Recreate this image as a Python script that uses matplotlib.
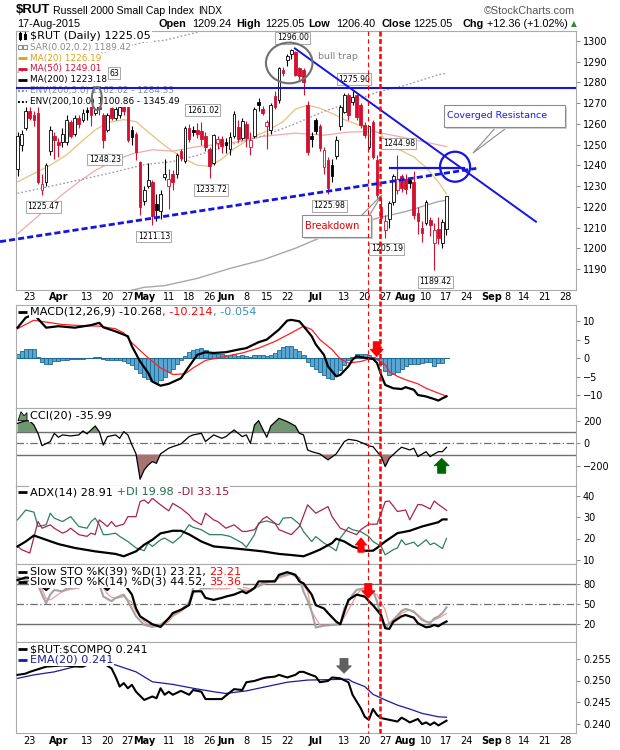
import numpy as np
import pandas as pd
import matplotlib
matplotlib.use("Agg")
import matplotlib.pyplot as plt
from matplotlib.patches import Ellipse, Rectangle, Polygon
from matplotlib.lines import Line2D
from matplotlib.transforms import Affine2D, blended_transform_factory

plt.rcParams["font.family"] = ["DejaVu Sans"]

W, H = 620, 750
RED = "#D3102F"

# trading calendar, 23-Mar-2015 is day 0
holidays = pd.to_datetime(["2015-04-03", "2015-05-25", "2015-07-03", "2015-09-07"])
cal = pd.bdate_range("2015-03-18", "2015-09-30")
cal = cal[~cal.isin(holidays)]
day_no = {d: i - 3 for i, d in enumerate(cal)}

tick_dates = ["2015-03-23", "2015-04-01", "2015-04-13", "2015-04-20", "2015-04-27",
              "2015-05-01", "2015-05-11", "2015-05-18", "2015-05-26", "2015-06-01",
              "2015-06-08", "2015-06-15", "2015-06-22", "2015-07-01", "2015-07-13",
              "2015-07-20", "2015-07-27", "2015-08-03", "2015-08-10", "2015-08-17",
              "2015-08-24", "2015-09-01", "2015-09-08", "2015-09-14", "2015-09-21",
              "2015-09-28"]
tick_text = ["23", "Apr", "13", "20", "27", "May", "11", "18", "26", "Jun", "8", "15",
             "22", "Jul", "13", "20", "27", "Aug", "10", "17", "24", "Sep", "8", "14",
             "21", "28"]

# daily $RUT, 18-Mar .. 17-Aug-2015
opens = [1238, 1250, 1258,
         1266, 1264, 1265, 1228, 1232,
         1247, 1254, 1251, 1251,
         1251, 1261, 1255, 1263, 1262,
         1266.5, 1269, 1265, 1270, 1264,
         1257, 1267.5, 1263, 1264, 1268,
         1268, 1257, 1255, 1241.8, 1223,
         1230, 1232, 1221.5, 1218, 1234.5,
         1230, 1236, 1236, 1247, 1242,
         1258, 1257, 1257, 1256.5, 1254,
         1248, 1241, 1250.5, 1252.5,
         1251, 1248, 1254, 1258.5, 1253,
         1260, 1249, 1254, 1270.5, 1267,
         1259, 1257, 1273.5, 1271.5, 1286,
         1290.8, 1293.5, 1294.4, 1287, 1286,
         1269, 1254, 1262, 1258.7,
         1239.4, 1242.6, 1240.2, 1244.5, 1258.7,
         1265.9, 1273.9, 1270.7, 1273.9, 1269.1,
         1259.5, 1249, 1261, 1242.6, 1220,
         1209, 1214, 1222.5, 1228, 1234.6,
         1233.5, 1233, 1232, 1217, 1209.6,
         1212, 1213.7, 1202.4, 1209.5, 1202.4,
         1209.24]
highs = [1256, 1257, 1268,
         1268, 1266, 1268, 1236, 1241,
         1259, 1256, 1253, 1258,
         1264, 1262, 1264, 1264, 1267,
         1268, 1270, 1271, 1272, 1265,
         1265, 1268, 1268, 1270, 1269,
         1269, 1259, 1256, 1242, 1230,
         1241, 1233, 1226, 1228, 1243,
         1238, 1237.5, 1246, 1248, 1259,
         1260, 1259, 1260.5, 1261.02, 1256,
         1249, 1255, 1254, 1254,
         1253, 1256, 1266, 1262, 1263,
         1261.5, 1256, 1268, 1272.5, 1268.5,
         1262, 1270, 1276, 1287.5, 1287.5,
         1293.5, 1296.00, 1295, 1287.5, 1287,
         1271, 1256, 1263, 1260,
         1249, 1244, 1243, 1254, 1269,
         1275, 1275, 1275.90, 1274.5, 1270,
         1261, 1259, 1262, 1245, 1224,
         1216, 1223, 1236, 1244.98, 1236,
         1236, 1234, 1237, 1220, 1213,
         1223.5, 1215, 1212, 1215, 1214,
         1225.05]
lows = [1235, 1247, 1257,
        1262, 1259, 1231, 1225.47, 1230,
        1245, 1243, 1244, 1249,
        1250, 1253, 1254, 1258, 1261,
        1262, 1258.7, 1264, 1264, 1248.23,
        1256, 1262, 1262, 1263, 1264,
        1251, 1250, 1242.6, 1216, 1221,
        1229, 1211.13, 1213, 1214, 1233,
        1219, 1228, 1234, 1242, 1241,
        1251, 1254, 1253, 1250, 1247,
        1233.72, 1240, 1248, 1246,
        1246, 1245, 1253, 1251, 1252,
        1249, 1245, 1253, 1266, 1264,
        1248, 1255, 1267, 1270, 1283,
        1288, 1291, 1283, 1281, 1274,
        1245, 1249, 1255, 1247,
        1236, 1225.98, 1232, 1243, 1257,
        1265, 1262, 1269, 1262, 1258,
        1253, 1248, 1243, 1224, 1212,
        1205.19, 1210, 1221, 1226, 1227,
        1226, 1229, 1214, 1207, 1203,
        1211, 1206, 1189.42, 1202, 1200,
        1206.40]
closes = [1254, 1255, 1266,
          1263, 1262, 1232, 1231, 1240,
          1257, 1252, 1250, 1255,
          1262, 1254, 1263, 1260, 1265,
          1265.5, 1264, 1270, 1267, 1252,
          1264, 1263, 1267, 1268, 1266,
          1252, 1253.5, 1246.6, 1220, 1228,
          1233, 1215.5, 1218.5, 1226, 1236,
          1233.3, 1232, 1245, 1243.5, 1258,
          1252.5, 1256, 1255, 1252.5, 1249,
          1239.5, 1254.5, 1252.5, 1249.5,
          1249.8, 1253.5, 1264.5, 1252.5, 1261.5,
          1253, 1252, 1267, 1269, 1265,
          1261, 1269, 1268.3, 1286.8, 1284.5,
          1292.8, 1295.5, 1283.6, 1283, 1280,
          1246.6, 1252.5, 1256.3, 1248.2,
          1247.4, 1229, 1234.6, 1252.2, 1268.3,
          1273.9, 1264.3, 1273.1, 1263.5, 1259.5,
          1254.6, 1258.7, 1244.2, 1225.7, 1214.5,
          1213, 1222, 1235, 1233.5, 1229.2,
          1228.5, 1231.5, 1216, 1213, 1207.2,
          1222.5, 1211.2, 1208.8, 1205, 1212.69,
          1225.05]
label_high_days = [42, 64, 79, 90]
label_low_days = [3, 18, 30, 44, 73, 87, 99]

ma20_d = [-3, 1, 5, 9, 13, 16, 19, 23, 26, 29, 33, 37, 41, 44, 47, 50, 54, 58, 62, 65,
          68, 71, 74, 77, 81, 84, 86, 88, 91, 94, 97, 100, 102]
ma20_v = [1232, 1236, 1240, 1245, 1252, 1257, 1260.5, 1262, 1261, 1256, 1249.5, 1244,
          1240, 1239.5, 1243, 1248, 1253, 1256.5, 1261, 1267, 1269, 1267.5, 1265, 1262,
          1259, 1257, 1255, 1249, 1247, 1244, 1239, 1232, 1226.19]
ma50_d = [-3, 0, 4, 8, 12, 16, 20, 25, 30, 35, 41, 49, 57, 65, 72, 78, 84, 90, 96, 102]
ma50_v = [1207, 1212, 1219, 1226, 1232, 1237.5, 1241.5, 1245.5, 1247.5, 1246.8, 1249,
          1250.6, 1253.9, 1255.5, 1254.5, 1256, 1256.3, 1254, 1251.5, 1249.01]
ma200_d = [20, 28, 33, 41, 49, 57, 65, 71, 77, 85, 92, 100, 102]
ma200_v = [1177.5, 1181.2, 1182, 1185.5, 1190.3, 1194.4, 1200, 1205, 1208.8, 1214.5,
           1217.7, 1222.5, 1223.18]
env5_d = [-3, 10, 20, 28, 35, 41, 49, 57, 65, 72, 77, 85, 92, 100, 102]
env5_v = [1226.5, 1232, 1236.4, 1240.3, 1241.8, 1244.8, 1249.8, 1254.1, 1260, 1266,
          1269.2, 1275.2, 1278.6, 1283.6, 1284.33]
env10_d = [-3, 10, 20, 28, 33, 41, 49]
env10_v = [1284.8, 1290.5, 1295.3, 1299.3, 1300.2, 1304.1, 1309.3]

# MACD(12,26,9)
macd_d = [-3, -1, 1, 4, 7, 11, 15, 17, 18, 21, 24, 25, 27, 29, 30, 32, 34, 37, 39, 41,
          43, 45, 48, 51, 53, 56, 58, 61, 63, 64, 66, 67, 69, 70, 72, 73, 75, 76, 78, 79,
          80, 82, 84, 85, 86, 87, 89, 91, 92, 94, 95, 97, 99, 100, 101, 102]
macd_v = [8.2, 10.9, 11.8, 8.2, 8.6, 8.2, 8.9, 9.5, 8.3, 7.2, 5.9, 3.2, -0.9, -4.0,
          -6.3, -7.4, -6.9, -5.4, -2.2, 0.9, 1.6, 1.4, 1.6, 2.3, 2.7, 4.3, 5.0, 7.7,
          10.1, 10.3, 9.9, 8.6, 5.9, 3.7, 0.9, -2.2, -4.9, -4.5, -2.2, -0.4, 0.5, 0.1,
          -0.2, -1.3, -4.5, -7.2, -8.1, -8.3, -7.8, -8.5, -9.9, -10.3, -11.0, -11.4,
          -10.8, -10.268]
sig_d = [-3, -1, 1, 4, 8, 12, 17, 21, 23, 25, 29, 32, 35, 38, 40, 43, 47, 52, 56, 60,
         64, 67, 69, 71, 74, 76, 78, 81, 83, 85, 87, 88, 90, 92, 95, 97, 100, 102]
sig_v = [7.9, 9.1, 10.2, 9.7, 9.05, 8.8, 8.6, 7.9, 6.8, 4.1, 0.05, -2.6, -4.4, -4.2,
         -2.6, -0.6, 0.3, 1.4, 2.7, 4.5, 6.8, 8.6, 7.7, 5.0, 2.3, -0.2, -1.3, -0.9,
         -0.2, -0.4, -1.8, -3.6, -4.9, -5.8, -6.9, -8.1, -9.4, -10.214]
hist = [1.0, 1.8, 2.4,
        2.5, 2.4, 0.2, -1.0, -1.6,
        -1.5, -0.8, -0.8, -0.5,
        -0.4, -0.3, -0.3, -0.1, -0.1,
        0.1, 0.1, 0.3, 0.3, -0.3,
        -0.6, -0.6, -0.6, -0.6, -0.8,
        -1.2, -1.8, -2.8, -4.0, -5.0,
        -5.6, -6.2, -6.6, -6.0, -5.0,
        -3.8, -2.8, -1.6, -0.6, 0.6,
        1.6, 2.2, 2.6, 2.7, 2.2,
        1.2, 1.2, 1.0, 1.0,
        0.8, 0.8, 1.1, 0.6, 0.8,
        0.6, 0.3, 0.8, 0.8, 0.9,
        0.5, 0.8, 1.3, 2.2, 2.9,
        3.3, 3.2, 2.6, 1.9, 0.8,
        -1.0, -2.2, -2.8, -3.8,
        -4.6, -5.4, -5.5, -4.6, -3.2,
        -1.8, -0.6, 0.2, 1.2, 1.2,
        1.1, 0.8, 0.2, -0.2, -1.6,
        -3.5, -4.5, -4.3, -3.6, -2.8,
        -2.2, -1.6, -1.5, -1.6, -1.4,
        -1.1, -1.0, -2.0, -1.4, -1.3,
        -0.054]

# CCI(20)
cci_d = [-3, -1, 0, 1, 2, 3, 5, 6, 7, 8, 10, 12, 13, 14, 16, 17, 18, 19, 21, 22, 23, 24,
         25, 26, 27, 28, 29, 30, 31, 32, 34, 35, 37, 39, 40, 42, 43, 45, 47, 48, 50, 52,
         53, 54, 55, 56, 58, 59, 61, 63, 65, 66, 67, 68, 69, 71, 73, 75, 77, 78, 80, 82,
         83, 84, 86, 87, 88, 90, 91, 93, 94, 95, 97, 98, 100, 101, 102]
cci_v = [176, 200, 198, 162, 88, -21, 15, 88, 53, 74, 65, 74, 109, 83, 153, 103, -15, 59,
         74, 44, 103, 74, -15, -94, -318, -236, -192, -162, -177, -94, -44, -30, -6, 59,
         74, 88, 15, 74, 44, 59, 118, 59, 74, 0, 162, 200, 53, 153, 221, 192, 153, 88,
         74, -59, -74, -94, -147, -94, 15, 35, 24, -6, -24, -30, -118, -206, -133, -65,
         -35, -59, -44, -118, -74, -118, -74, -74, -35.99]

# ADX(14)
adx_d = [-3, -1, 1, 4, 7, 11, 16, 21, 23, 26, 28, 30, 32, 35, 37, 39, 42, 45, 49, 53,
         57, 61, 64, 67, 69, 71, 74, 75, 77, 79, 82, 84, 85, 87, 90, 93, 96, 100, 101, 102]
adx_v = [16.3, 18.6, 21.4, 19.4, 17.4, 15.6, 14.0, 12.8, 11.7, 14.0, 17.1, 19.4, 22.4,
         23.6, 23.6, 21.9, 18.6, 16.3, 15.6, 14.8, 14.0, 12.8, 12.3, 11.7, 13.2, 14.8,
         17.9, 19.9, 18.6, 16.3, 14.3, 14.3, 15.6, 18.6, 22.5, 23.6, 25.6, 27.6, 28.9,
         28.91]
pdi_d = [-3, -1, 1, 2, 4, 5, 6, 8, 10, 12, 14, 15, 16, 17, 18, 19, 21, 22, 24, 26, 28,
         29, 30, 32, 33, 35, 37, 39, 40, 42, 44, 47, 49, 52, 53, 55, 56, 58, 61, 62, 64,
         66, 67, 69, 70, 72, 74, 75, 76, 78, 79, 81, 83, 84, 86, 87, 89, 90, 91, 92, 94,
         95, 97, 98, 99, 101, 102]
pdi_v = [28.7, 33.3, 32.3, 25.6, 26.4, 31.8, 29.5, 27.9, 30.2, 25.6, 24.8, 27.9, 29.5,
         26.4, 21.8, 21.8, 22.5, 21.0, 18.6, 15.6, 14.3, 17.9, 16.3, 19.4, 20.2, 17.9,
         21.0, 26.4, 25.2, 24.1, 21.8, 21.8, 21.0, 17.9, 15.9, 21.8, 27.2, 28.2, 26.4,
         29.5, 29.8, 26.7, 23.2, 18.6, 20.9, 17.9, 15.6, 14.3, 20.2, 25.2, 24.1, 23.2,
         20.9, 18.6, 16.3, 12.4, 14.8, 15.6, 19.4, 17.1, 18.3, 16.3, 19.4, 17.1, 17.9,
         15.3, 19.98]
mdi_d = [-3, -2, 0, 2, 3, 5, 6, 8, 9, 10, 12, 14, 15, 16, 17, 19, 20, 21, 23, 24, 26,
         27, 28, 29, 30, 32, 34, 35, 37, 39, 40, 42, 43, 45, 46, 48, 50, 52, 53, 55, 57,
         58, 60, 61, 64, 66, 68, 70, 73, 74, 76, 78, 80, 81, 83, 85, 86, 87, 88, 90, 92,
         93, 95, 96, 98, 99, 100, 102]
mdi_v = [16.3, 14.8, 13.2, 27.9, 24.8, 26.4, 24.8, 22.5, 23.3, 24.8, 21.8, 21.0, 22.5,
         21.8, 28.7, 25.6, 27.9, 25.6, 26.7, 30.2, 30.2, 37.2, 38.0, 36.4, 38.8, 35.7,
         32.9, 36.4, 34.1, 31.0, 28.7, 26.4, 31.8, 28.7, 27.9, 24.8, 26.4, 23.3, 23.3,
         24.1, 29.1, 30.2, 27.2, 24.1, 21.8, 25.6, 35.7, 31.8, 34.9, 30.2, 24.8, 23.3,
         21.8, 24.1, 26.7, 26.7, 31.8, 37.2, 37.5, 32.6, 33.3, 28.7, 35.9, 35.7, 33.8,
         37.5, 35.9, 33.15]

# Slow STO
k39_d = [-3, -1, 1, 2, 3, 4, 5, 7, 10, 13, 16, 17, 18, 19, 20, 22, 23, 25, 26, 27, 29,
         30, 32, 34, 35, 37, 39, 40, 42, 43, 45, 47, 48, 50, 52, 53, 55, 56, 58, 60, 61,
         63, 65, 66, 67, 69, 70, 72, 73, 75, 76, 77, 78, 80, 82, 83, 84, 86, 87, 88, 89,
         91, 92, 94, 95, 97, 98, 99, 100, 101, 102]
k39_v = [86, 90, 88, 82, 76, 71, 76, 80, 84, 88, 90, 86, 76, 71, 78, 84, 81, 64, 43, 31,
         23, 19, 15, 28, 36, 41, 48, 69, 69, 59, 56, 59, 61, 64, 69, 66, 74, 84, 84, 84,
         94, 98, 94, 84, 81, 64, 48, 43, 36, 23, 19, 38, 56, 64, 61, 54, 48, 33, 13, 12,
         23, 31, 33, 29, 20.5, 14.4, 15.4, 18, 16, 20, 23.21]
k14_d = [-3, -1, 1, 2, 3, 4, 5, 6, 8, 9, 11, 12, 14, 16, 17, 18, 20, 21, 23, 24, 26, 28,
         30, 32, 33, 35, 36, 37, 39, 40, 41, 42, 44, 45, 47, 48, 50, 51, 52, 54, 55, 57,
         58, 60, 61, 63, 64, 66, 67, 68, 69, 70, 72, 74, 76, 77, 79, 80, 82, 84, 85, 86,
         87, 89, 91, 92, 94, 96, 98, 99, 100, 101, 102]
k14_v = [90, 86, 82, 79, 64, 51, 64, 71, 69, 73, 75, 78, 86, 88, 80, 61, 54, 59, 64, 54,
         31, 18, 15, 18, 23, 33, 37, 41, 51, 74, 79, 74, 74, 76, 75, 78, 79, 74, 71, 69,
         74, 81, 84, 84, 91.5, 95, 96.6, 89, 68.7, 55, 38, 14, 16.9, 18, 19, 43.3, 63.6,
         71.2, 73.8, 69.7, 53.5, 28.1, 13.9, 25.6, 39.3, 42.3, 38.3, 25.6, 20.5, 28.1,
         30.7, 36, 44.52]
d3_d = [-3, -1, 1, 3, 4, 5, 6, 8, 10, 12, 14, 17, 19, 20, 21, 23, 25, 26, 28, 29, 31,
        32, 34, 35, 37, 38, 40, 42, 45, 48, 51, 53, 54, 56, 58, 61, 63, 64, 66, 68, 69,
        71, 73, 76, 78, 80, 81, 83, 85, 87, 88, 89, 91, 93, 95, 97, 98, 100, 102]
d3_v = [88, 86, 84, 72, 58, 56, 60, 69, 72, 74, 80, 84, 65, 60, 58, 61, 52, 38, 23, 18,
        15.4, 15.4, 23, 30.7, 38, 43.3, 66, 72.7, 72.7, 72.7, 76.3, 74, 72, 76, 81.4, 89,
        93, 95, 86.5, 68.7, 38.3, 18, 16.9, 19, 40.8, 63.6, 71.2, 69.7, 63.6, 40.8, 18,
        20.5, 35.7, 40.8, 33.2, 23, 23, 28.1, 35.36]

# $RUT:$COMPQ and its EMA(20)
rat_d = [-3, -1, 0, 3, 4, 8, 12, 13, 16, 18, 20, 21, 22, 23, 24, 25, 26, 28, 30, 31, 32,
         33, 34, 35, 37, 39, 40, 42, 43, 45, 47, 48, 50, 52, 53, 55, 57, 58, 60, 61, 63,
         65, 66, 67, 68, 70, 71, 73, 74, 76, 78, 79, 81, 82, 83, 84, 85, 86, 88, 90, 91,
         92, 93, 95, 96, 97, 98, 99, 100, 102]
rat_v = [0.2513, 0.2516, 0.2520, 0.2529, 0.2532, 0.2535, 0.2532, 0.2532, 0.2545, 0.2540,
         0.2528, 0.2509, 0.2486, 0.2494, 0.2482, 0.2490, 0.2474, 0.2455, 0.2463, 0.2459,
         0.2482, 0.2467, 0.2474, 0.2467, 0.2476, 0.2467, 0.2478, 0.2474, 0.2457, 0.2457,
         0.2457, 0.2465, 0.2480, 0.2478, 0.2496, 0.2499, 0.2505, 0.2507, 0.2509, 0.2513,
         0.2507, 0.2513, 0.2520, 0.2520, 0.2516, 0.2509, 0.2496, 0.2499, 0.2507, 0.2505,
         0.2496, 0.2467, 0.2436, 0.2416, 0.2409, 0.2434, 0.2420, 0.2413, 0.2409, 0.2405,
         0.2414, 0.2409, 0.2403, 0.2411, 0.2399, 0.2403, 0.2397, 0.2403, 0.2396, 0.2407]
ema_d = [-3, 1, 6, 11, 16, 21, 26, 30, 35, 40, 45, 48, 53, 58, 63, 68, 78, 79, 82, 84,
         87, 90, 93, 96, 100, 102]
ema_v = [0.2505, 0.2513, 0.2520, 0.2532, 0.2544, 0.2536, 0.2520, 0.2497, 0.2491, 0.2482,
         0.2474, 0.2470, 0.2476, 0.2486, 0.2496, 0.2501, 0.2503, 0.2497, 0.2486, 0.2468,
         0.2455, 0.2443, 0.2434, 0.2424, 0.2416, 0.2415]

# ---------------------------------------------------------------------------
fig = plt.figure(figsize=(W / 100, H / 100), dpi=100)
pix = Affine2D().scale(1 / W, -1 / H).translate(0, 1) + fig.transFigure
rend = fig.canvas.get_renderer()


def rect(top, bot):
    return [16 / W, 1 - bot / H, 560 / W, (bot - top) / H]


XL = (-3.38, 133.7)
ax_p = fig.add_axes(rect(31, 290))
ax_m = fig.add_axes(rect(305, 408))
ax_c = fig.add_axes(rect(408, 486))
ax_a = fig.add_axes(rect(486, 564))
ax_s = fig.add_axes(rect(564, 642))
ax_r = fig.add_axes(rect(642, 733))


def style(ax, ylim, yticks, labels=None):
    ax.set_xlim(*XL)
    ax.set_ylim(*ylim)
    ax.yaxis.tick_right()
    ax.set_yticks(yticks)
    if labels:
        ax.set_yticklabels(labels)
    ax.tick_params(axis="y", labelsize=7, length=3, width=0.7, color="#8A8A8A", pad=2)
    ax.tick_params(axis="x", length=0)
    ax.set_xticks([])
    for s in ax.spines.values():
        s.set_color("#ABABAB")
        s.set_linewidth(0.8)


def dates_axis(ax, pad):
    ax.set_xticks([day_no[pd.Timestamp(d)] for d in tick_dates])
    ax.set_xticklabels(tick_text, fontsize=7)
    for lbl in ax.get_xticklabels():
        if lbl.get_text().isalpha():
            lbl.set_fontweight("bold")
    ax.tick_params(axis="x", length=0, pad=pad)


def chain(target, x, y, parts, size, family="DejaVu Sans", box=False, zorder=6):
    for s, color, weight in parts:
        t = target.text(x, y, s, transform=pix, color=color, fontsize=size,
                        fontweight=weight, family=family, ha="left", va="center",
                        zorder=zorder, clip_on=False)
        if box:
            t.set_bbox(dict(boxstyle="square,pad=0.08", fc="white", ec="none"))
        x += t.get_window_extent(rend).width
    return x


def icon(ax, y, kind, color):
    kw = dict(transform=pix, clip_on=False, zorder=7)
    if kind == "line":
        ax.plot([18, 27], [y, y], color=color, lw=2.0, solid_capstyle="butt", **kw)
    elif kind == "dots":
        ax.plot([18, 27], [y, y], color=color, lw=1.4, ls=(0, (1, 1)), **kw)
    elif kind == "squares":
        ax.plot([20, 25], [y, y], "s", ms=2.4, mfc="none", mec=color, mew=0.8, ls="none", **kw)
    elif kind == "candle":
        ax.plot([20, 20], [y - 4, y + 4], color="black", lw=0.8, **kw)
        ax.plot([20, 20], [y - 2, y + 2], color="black", lw=2.2, **kw)
        ax.plot([25, 25], [y - 4, y + 3], color="black", lw=0.8, **kw)
        ax.plot([25, 25], [y - 1, y + 2], color="black", lw=2.2, **kw)
    elif kind == "hill":
        ax.add_patch(Polygon([(18, y + 5), (21, y - 4), (24, y), (27, y - 3), (27, y + 5)],
                             transform=pix, fc="#6F9671", ec="black", lw=0.6,
                             clip_on=False, zorder=7))


LEG = 8.1      # indicator legends
LEG_SMALL = 6.4  # overlay rows in the price panel

# ---------------- price panel ----------------
style(ax_p, (1179.9, 1304.7), list(range(1190, 1301, 10)))
dates_axis(ax_p, 1.5)

x = np.arange(len(closes)) - 3
o, h, l, c = (np.array(v, dtype=float) for v in (opens, highs, lows, closes))
prev = np.r_[o[0], c[:-1]]
edge = [RED if cc < pp else "black" for cc, pp in zip(c, prev)]
face = ["white" if cc > oo else ee for cc, oo, ee in zip(c, o, edge)]
ax_p.vlines(x, l, h, colors=edge, lw=0.8, zorder=3)
ax_p.bar(x, np.maximum(np.abs(c - o), 0.35), bottom=np.minimum(o, c), width=0.66,
         color=face, edgecolor=edge, linewidth=0.6, zorder=4)

ax_p.plot(ma20_d, ma20_v, color="#E6C27E", lw=0.9, zorder=2)
ax_p.plot(ma50_d, ma50_v, color="#F3A9A9", lw=0.9, zorder=2)
ax_p.plot(ma200_d, ma200_v, color="#A8A8A8", lw=1.0, zorder=2)
ax_p.plot(env5_d, env5_v, color="#9C9CAA", lw=1.0, ls=(0, (1.2, 1.6)), zorder=2)
ax_p.plot(env10_d, env10_v, color="#9C9CAA", lw=1.0, ls=(0, (1.2, 1.6)), zorder=2)

lbl_box = dict(boxstyle="square,pad=0.18", fc="white", ec="#A8A8A8", lw=0.7)
for d in label_high_days:
    ax_p.annotate(f"{h[d + 3]:.2f}", (d, h[d + 3]), xytext=(1, 8.2), textcoords="offset points",
                  ha="center", va="center", fontsize=5.6, bbox=lbl_box, zorder=6)
for d in label_low_days:
    ax_p.annotate(f"{l[d + 3]:.2f}", (d, l[d + 3]), xytext=(1, -8.2), textcoords="offset points",
                  ha="center", va="center", fontsize=5.6, bbox=lbl_box, zorder=6)
ax_p.text(114, 73, "63", transform=pix, ha="center", va="center", fontsize=5.6,
          bbox=lbl_box, zorder=5, clip_on=False)

# legend of the price panel
rows = [("candle", "black", "\\$RUT (Daily) 1225.05", "black", LEG),
        ("squares", "#8C8C8C", "SAR(0.02,0.2) 1189.42", "#8C8C8C", LEG_SMALL),
        ("line", "#D9A21B", "MA(20) 1226.19", "#D9A21B", LEG_SMALL),
        ("line", "#D0103A", "MA(50) 1249.01", "#D0103A", LEG_SMALL),
        ("line", "black", "MA(200) 1223.18", "black", LEG_SMALL),
        ("dots", "#8C8C8C", "ENV(200,5.0) 1162.02 - 1284.33", "#8C8C8C", LEG_SMALL),
        ("dots", "black", "ENV(200,10.0) 1100.86 - 1345.49", "black", LEG_SMALL)]
for k, (kind, ic, txt, tc, sz) in enumerate(rows):
    y = 36.2 + 10.9 * k
    icon(ax_p, y, kind, ic)
    chain(ax_p, 30, y, [(txt, tc, "normal")], sz, box=True)

# drawn trend lines and marks
BLUE = "#1414E6"
ax_p.axhline(1277, color=BLUE, lw=1.5, zorder=8)
ax_p.plot([-7.3, 109.3], [1203.2, 1238.5], color=BLUE, lw=2.0, ls=(0, (2.2, 1.1)),
          clip_on=False, zorder=8)
ax_p.plot([64.9, 123.9], [1296.3, 1212.8], color=BLUE, lw=1.4, zorder=8)
ax_p.plot([88.2, 106.3], [1238.9, 1238.9], color=BLUE, lw=1.6, zorder=8)
ax_p.add_patch(Ellipse((104.1, 1239.3), 7.35, 14.45, fc="none", ec=BLUE, lw=1.6, zorder=8))
ax_p.add_patch(Ellipse((63.5, 1289.3), 11.4, 19.6, fc="none", ec="#707070", lw=1.5, zorder=8))
ax_p.add_patch(Ellipse((16.4, 1272.2), 2.45, 11.1, fc="none", ec="#707070", lw=1.5, zorder=8,
                       clip_on=False))
ax_p.text(318, 56.7, "bull trap", transform=pix, color="#808080", fontsize=6.8,
          ha="left", va="center", zorder=8)


def callout(x0, y0, w, hgt, text, color, size, wedge):
    fig.add_artist(Polygon(wedge, closed=True, transform=pix, fc="white", ec="#8C8C8C", lw=0.8))
    fig.add_artist(Rectangle((x0 + 2, y0 + 2), w, hgt, transform=pix, fc="#CFCFCF", ec="none"))
    fig.add_artist(Rectangle((x0, y0), w, hgt, transform=pix, fc="white", ec="#8C8C8C", lw=0.8))
    fig.text(x0 + 3, y0 + hgt / 2, text, transform=pix, color=color, fontsize=size,
             ha="left", va="center")


callout(444, 105, 121, 21.7, "Coverged Resistance", "#1C1CE0", 6.8,
        [(497, 126), (509, 126), (473, 153)])
callout(301.6, 215, 69.4, 21.7, "Breakdown", "#E00000", 7.0,
        [(361, 216), (369, 216), (381.7, 195)])

# ---------------- MACD ----------------
style(ax_m, (-13.4, 14.3), [-10, -5, 0, 5, 10])
ax_m.bar(x, hist, width=1.0, color="#5AA5D2", edgecolor="#1E6B93", linewidth=0.6, zorder=2)
ax_m.plot([x[0] - 0.5, x[-1] + 0.5], [0, 0], color="#1E6B93", lw=0.8, zorder=2)
ax_m.plot(sig_d, sig_v, color="#FF2020", lw=0.9, zorder=3)
ax_m.plot(macd_d, macd_v, color="black", lw=1.6, zorder=4)
icon(ax_m, 311.7, "line", "black")
chain(ax_m, 30, 311.7, [("MACD(12,26,9) -10.268", "black", "normal"),
                        (", -10.214", "#FF0000", "normal"),
                        (", -0.054", "#3C8DBC", "normal")], LEG, box=True)

# ---------------- CCI ----------------
style(ax_c, (-378, 312), [-200, 0, 200])
cd, cv = np.array(cci_d, float), np.array(cci_v, float)
ax_c.fill_between(cd, cv, 100, where=cv >= 100, interpolate=True, color="#6F9671", lw=0, zorder=2)
ax_c.fill_between(cd, cv, -100, where=cv <= -100, interpolate=True, color="#A67272", lw=0, zorder=2)
for lv in (100, -100):
    ax_c.axhline(lv, color="#6E6E6E", lw=1.0, zorder=1)
ax_c.axhline(0, color="#6E6E6E", lw=0.9, ls=(0, (6, 2, 1, 2)), zorder=1)
ax_c.plot(cd, cv, color="black", lw=0.9, zorder=3)
icon(ax_c, 415.7, "hill", "#6F9671")
chain(ax_c, 30, 415.7, [("CCI(20) -35.99", "black", "normal")], LEG, box=True)

# ---------------- ADX ----------------
style(ax_a, (8.1, 44.5), [10, 20, 30, 40])
ax_a.plot(pdi_d, pdi_v, color="#2F7F5F", lw=0.9, zorder=2)
ax_a.plot(mdi_d, mdi_v, color="#A8244F", lw=0.9, zorder=2)
ax_a.plot(adx_d, adx_v, color="black", lw=1.6, zorder=3)
icon(ax_a, 492.3, "line", "black")
chain(ax_a, 30, 492.3, [("ADX(14) 28.91", "black", "normal"),
                        (" +DI 19.98", "#1F6E43", "normal"),
                        (" -DI 33.15", "#A0183F", "normal")], LEG, box=True)

# ---------------- Slow STO ----------------
style(ax_s, (-7.9, 110.4), [20, 50, 80])
for lv in (20, 80):
    ax_s.axhline(lv, color="#6E6E6E", lw=1.0, zorder=1)
ax_s.axhline(50, color="#6E6E6E", lw=0.9, ls=(0, (6, 2, 1, 2)), zorder=1)
ax_s.plot(d3_d, d3_v, color="#F49A9A", lw=0.9, zorder=2)
ax_s.plot(k14_d, k14_v, color="#A3A3A3", lw=1.5, zorder=3)
ax_s.plot(k39_d, k39_v, color="black", lw=1.6, zorder=4)
icon(ax_s, 571.7, "line", "black")
chain(ax_s, 30, 571.7, [("Slow STO %K(39) %D(1) 23.21, ", "black", "normal"),
                        ("23.21", "#FF0000", "normal")], LEG, box=True)
icon(ax_s, 581.7, "line", "black")
chain(ax_s, 30, 581.7, [("Slow STO %K(14) %D(3) 44.52, ", "black", "normal"),
                        ("35.36", "#FF0000", "normal")], LEG, box=True)

# ---------------- $RUT:$COMPQ ----------------
style(ax_r, (0.23785, 0.25891), [0.240, 0.245, 0.250, 0.255],
      ["0.240", "0.245", "0.250", "0.255"])
dates_axis(ax_r, 2.0)
ax_r.plot(ema_d, ema_v, color="#1A1AA0", lw=0.9, zorder=2)
ax_r.plot(rat_d, rat_v, color="black", lw=1.5, zorder=3)
icon(ax_r, 649.3, "line", "black")
chain(ax_r, 30, 649.3, [("\\$RUT:\\$COMPQ 0.241", "black", "normal")], LEG, box=True)
icon(ax_r, 660, "line", "#1A1AA0")
chain(ax_r, 30, 660, [("EMA(20) 0.241", "#1A1AA0", "normal")], LEG, box=True)

# ---------------- vertical event lines and arrows ----------------
vtr = blended_transform_factory(ax_p.transData, fig.transFigure)
fig.add_artist(Line2D([82.9, 82.9], [1 - 31 / H, 1 - 733 / H], transform=vtr,
                      color="#FF0000", lw=0.8, ls=(0, (4, 3))))
fig.add_artist(Line2D([85.75, 85.75], [1 - 31 / H, 1 - 733 / H], transform=vtr,
                      color="#FF0000", lw=1.8, ls=(0, (2, 1))))


def arrow(cx, y0, y1, w, color, up=False):
    hw, sw, mid = w / 2, w * 0.27, (y0 + y1) / 2
    if up:
        pts = [(cx, y0), (cx + hw, mid), (cx + sw, mid), (cx + sw, y1),
               (cx - sw, y1), (cx - sw, mid), (cx - hw, mid)]
    else:
        pts = [(cx - sw, y0), (cx + sw, y0), (cx + sw, mid), (cx + hw, mid),
               (cx, y1), (cx - hw, mid), (cx - sw, mid)]
    fig.add_artist(Polygon(pts, closed=True, transform=pix, fc=color, ec=color, lw=0.5))


arrow(376.7, 341.7, 356.7, 13.3, "#FF0000")
arrow(361.0, 537.7, 552.3, 11.7, "#FF0000", up=True)
arrow(368.3, 583.3, 598.3, 13.3, "#FF0000")
arrow(441.7, 458.3, 473.3, 15.3, "#006400", up=True)
arrow(344.0, 658.3, 673.3, 15.0, "#606060")

# ---------------- header ----------------
hx = chain(fig, 15.9, 10, [("\\$RUT", "black", "bold")], 9.5, family="Liberation Sans")
hx = chain(fig, hx + 3, 10.5, [("Russell 2000 Small Cap Index", "black", "normal")], 7.6,
           family="Liberation Sans")
chain(fig, hx + 4, 10.5, [("INDX", "black", "normal")], 7.2, family="Liberation Sans")
fig.text(575.5, 10.5, "\u00a9StockCharts.com", transform=pix, ha="right", va="center",
         fontsize=7.8, color="#555555", family="Liberation Sans")
fig.text(16.7, 24, "17-Aug-2015", transform=pix, ha="left", va="center", fontsize=7.8,
         family="Liberation Sans")
hdr = [(158.7, "Open", "bold"), (192.5, "1209.24", "normal"), (236, "High", "bold"),
       (265, "1225.05", "normal"), (308.7, "Low", "bold"), (336.5, "1206.40", "normal"),
       (381, "Close", "bold"), (413.5, "1225.05", "normal"), (462.3, "Chg", "bold"),
       (487.3, "+12.36 (+1.02%)", "normal")]
for hx, s, wt in hdr:
    fig.text(hx, 24, s, transform=pix, ha="left", va="center", fontsize=7.8,
             fontweight=wt, family="Liberation Sans")
fig.text(571.4, 24, "\u25b2", transform=pix, ha="left", va="center", fontsize=5.5,
         color="#2E8B2E", family="DejaVu Sans")

fig.savefig("out.png", dpi=100, facecolor="white")
